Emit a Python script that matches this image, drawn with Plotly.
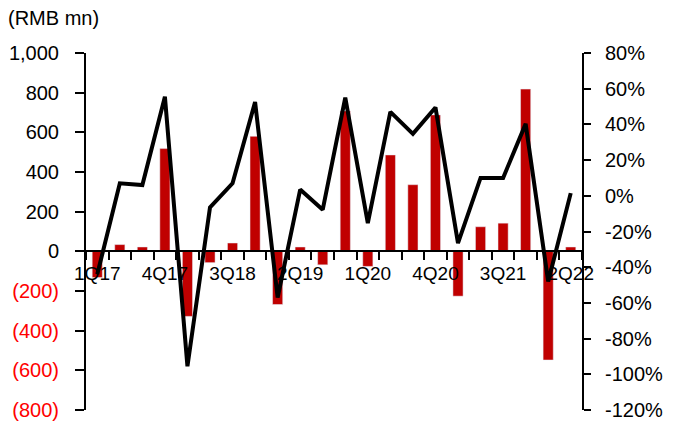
import plotly.graph_objects as go

categories = ["1Q17", "2Q17", "3Q17", "4Q17", "1Q18", "2Q18", "3Q18", "4Q18",
              "1Q19", "2Q19", "3Q19", "4Q19", "1Q20", "2Q20", "3Q20", "4Q20",
              "1Q21", "2Q21", "3Q21", "4Q21", "1Q22", "2Q22"]
bar_values = [-132, 34, 22, 518, -328, -57, 42, 580,
              -268, 22, -68, 708, -76, 486, 336, 688,
              -226, 124, 142, 818, -548, 22]
line_values = [-44, 7, 6, 55.5, -95.5, -6.5, 7, 52.5,
               -57, 3.5, -7.8, 55, -15.3, 47, 34.7, 49.5,
               -26.5, 10, 10, 40.3, -48, 1.5]
left_ticks = [-800, -600, -400, -200, 0, 200, 400, 600, 800, 1000]
right_ticks = [-120, -100, -80, -60, -40, -20, 0, 20, 40, 60, 80]

x = list(range(len(categories)))
label_idx = x[::3]

def left_label(v):
    if v < 0:
        return "<span style='color:#FF0000'>(%s)</span>" % format(-v, ",")
    return format(v, ",")

fig = go.Figure()
fig.add_trace(go.Bar(x=x, y=bar_values, marker_color="#C00000", width=0.45,
                     xaxis="x", yaxis="y", showlegend=False))
fig.add_trace(go.Scatter(x=x, y=line_values, mode="lines",
                         line=dict(color="black", width=4),
                         xaxis="x", yaxis="y2", showlegend=False))

family = "Liberation Sans, Arial, sans-serif"
yfont = dict(family=family, size=20, color="black")
xfont = dict(family=family, size=19, color="black")

fig.update_layout(
    width=680, height=423,
    margin=dict(l=86, r=98, t=53, b=13, autoexpand=False),
    paper_bgcolor="white", plot_bgcolor="white",
    font=yfont,
    xaxis=dict(range=[-0.5, len(categories) - 0.5], anchor="free",
               position=800 / 1800, automargin=False,
               tickmode="array", tickvals=label_idx,
               ticktext=[categories[i] for i in label_idx],
               ticks="", showgrid=False, zeroline=False,
               showline=True, linecolor="black", linewidth=2,
               ticklabelstandoff=5,
               minor=dict(tickvals=[i - 0.5 for i in range(len(categories) + 1)],
                          ticks="outside", ticklen=8, tickcolor="black",
                          tickwidth=1.5, showgrid=False),
               tickfont=xfont, fixedrange=True),
    yaxis=dict(range=[-800, 1000], tickmode="array", tickvals=left_ticks,
               ticktext=[left_label(v) for v in left_ticks], automargin=False,
               ticks="outside", ticklen=9, tickcolor="black", tickwidth=1.5,
               showline=True, linecolor="black", linewidth=2,
               showgrid=False, zeroline=False, tickfont=yfont,
               ticklabelstandoff=12),
    yaxis2=dict(range=[-120, 80], overlaying="y", side="right", automargin=False,
                tickmode="array", tickvals=right_ticks,
                ticktext=["%d%%" % v for v in right_ticks],
                ticks="outside", ticklen=7, tickcolor="black", tickwidth=1.5,
                showline=True, linecolor="black", linewidth=2,
                showgrid=False, zeroline=False, tickfont=yfont,
                ticklabelstandoff=10),
    annotations=[dict(text="(RMB mn)", xref="paper", yref="paper",
                      x=-80 / 496, y=1 + 35 / 357, xanchor="left",
                      yanchor="middle", showarrow=False, font=yfont)],
)

fig.write_html("out.html")
